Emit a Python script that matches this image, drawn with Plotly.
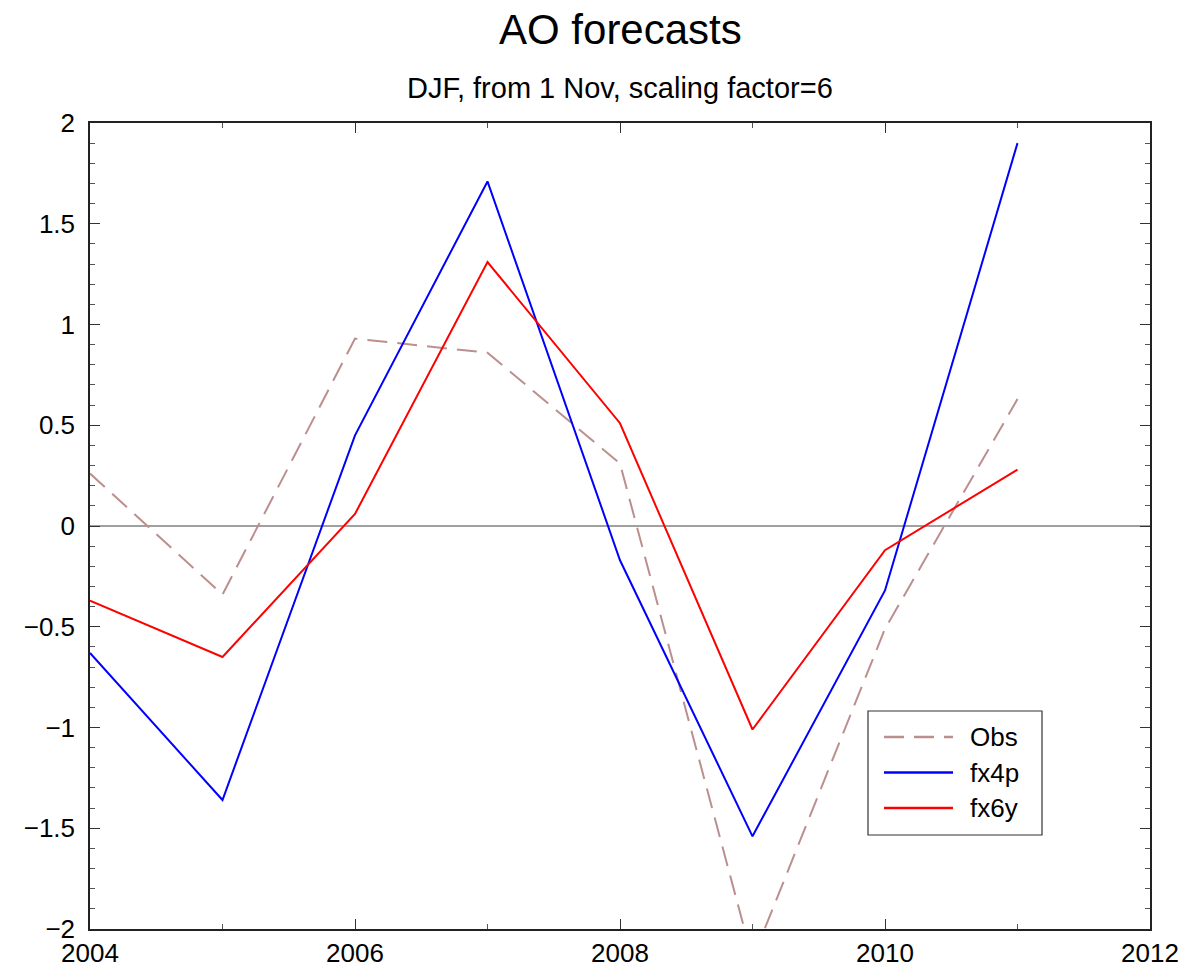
import plotly.graph_objects as go

# DJF Arctic Oscillation index: observed vs two forecast systems
years = [2004, 2005, 2006, 2007, 2008, 2009, 2010, 2011]
obs = [0.26, -0.34, 0.93, 0.86, 0.31, -2.15, -0.51, 0.63]
fx4p = [-0.63, -1.36, 0.45, 1.71, -0.17, -1.54, -0.32, 1.90]
fx6y = [-0.37, -0.65, 0.06, 1.31, 0.51, -1.01, -0.12, 0.28]

series_names = ["Obs", "fx4p", "fx6y"]
series_colors = ["#bc8f8f", "#0000ff", "#ff0000"]
series_dash = ["20px,10px", "solid", "solid"]

FONT = "Liberation Sans, Arial, sans-serif"
W, H = 1187, 967
L, R, T, B = 90, 37, 123, 38
PW, PH = W - L - R, H - T - B


def px_x(p):
    return (p - L) / PW


def px_y(p):
    return (H - B - p) / PH


fig = go.Figure()
for name, vals, col, dash in zip(series_names, [obs, fx4p, fx6y], series_colors, series_dash):
    fig.add_trace(go.Scatter(x=years, y=vals, mode="lines", name=name,
                             line=dict(color=col, width=2, dash=dash)))

annotations = [
    dict(text="AO forecasts", x=0.5, y=px_y(30), xref="paper", yref="paper",
         showarrow=False, yanchor="middle", font=dict(size=42)),
    dict(text="DJF, from 1 Nov, scaling factor=6", x=0.5, y=px_y(88),
         xref="paper", yref="paper", showarrow=False, yanchor="middle",
         font=dict(size=29)),
]

fig.update_layout(
    width=W, height=H,
    margin=dict(l=L, r=R, t=T, b=B),
    paper_bgcolor="white", plot_bgcolor="white",
    font=dict(family=FONT, size=26, color="black"),
    showlegend=False,
    annotations=annotations,
)

# zero reference line
fig.add_hline(y=0, line=dict(color="#808080", width=1.5), layer="below")

# boxed legend in the lower right
fig.add_shape(type="rect", xref="paper", yref="paper",
              x0=px_x(868), x1=px_x(1042), y0=px_y(835), y1=px_y(711),
              line=dict(color="#333333", width=1.2), fillcolor="white", layer="above")
for i, (name, col, dash) in enumerate(zip(series_names, series_colors, series_dash)):
    yy = 737 + i * 35.5
    fig.add_shape(type="line", xref="paper", yref="paper",
                  x0=px_x(884), x1=px_x(953), y0=px_y(yy), y1=px_y(yy),
                  line=dict(color=col, width=2.5, dash=dash), layer="above")
    fig.add_annotation(text=name, xref="paper", yref="paper",
                       x=px_x(968), y=px_y(yy), xanchor="left", yanchor="middle",
                       showarrow=False, font=dict(size=26))

fig.update_xaxes(range=[2004, 2012], tickmode="linear", tick0=2004, dtick=2,
                 ticks="inside", ticklen=10, tickcolor="#333333",
                 showline=True, linecolor="#222222", linewidth=1.5, mirror="ticks",
                 showgrid=False, zeroline=False, automargin=False,
                 minor=dict(ticks="inside", dtick=1, ticklen=5, tickcolor="#555555",
                            showgrid=False),
                 tickfont=dict(size=26), ticklabelstandoff=0)
fig.update_yaxes(range=[-2, 2], tickmode="linear", tick0=-2, dtick=0.5,
                 ticks="inside", ticklen=10, tickcolor="#333333",
                 showline=True, linecolor="#222222", linewidth=1.5, mirror="ticks",
                 showgrid=False, zeroline=False, automargin=False,
                 minor=dict(ticks="inside", dtick=0.1, ticklen=5, tickcolor="#555555",
                            showgrid=False),
                 tickfont=dict(size=26), ticklabelstandoff=8)

fig.write_html("out.html")
